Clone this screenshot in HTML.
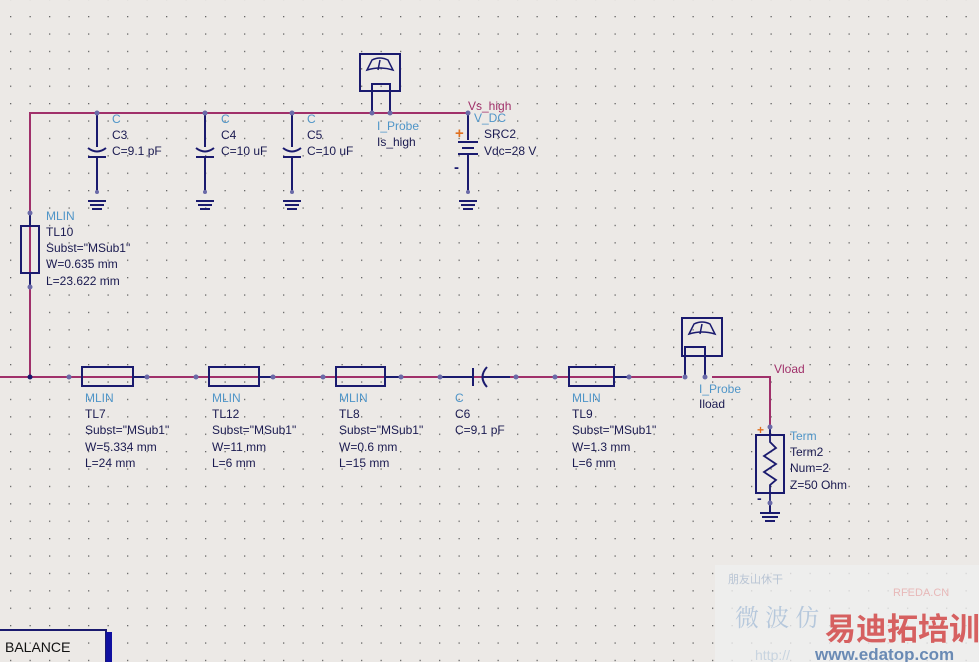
<!DOCTYPE html>
<html><head><meta charset="utf-8"><style>
html,body{margin:0;padding:0;background:#ece9e6;}
svg{display:block;}
text{font-family:"Liberation Sans",sans-serif;font-size:12px;fill:#1a1a50;}
.t{fill:#4f95c8;}
.m{fill:#a0306a;}
</style></head><body>
<svg width="979" height="662" viewBox="0 0 979 662" xmlns="http://www.w3.org/2000/svg">
<defs>
<pattern id="g" x="10" y="16" width="19.5" height="17.4" patternUnits="userSpaceOnUse">
<rect x="0" y="0" width="1.3" height="1.3" fill="#666"/>
</pattern>
</defs>
<rect width="979" height="662" fill="#ece9e6"/>
<rect width="979" height="662" fill="url(#g)"/>

<rect x="715" y="565" width="264" height="97" fill="#efefef" opacity="0.8"/>
<text x="728" y="583" style="font-size:11px;fill:#b8c4d4">朋友山休干</text>
<text x="893" y="596" style="font-size:11px;fill:#e8b8b8">RFEDA.CN</text>
<text x="735" y="626" style="font-size:24px;fill:#b6c8dc;font-family:'Noto Serif CJK SC',serif">微 波 仿</text>
<text x="825" y="640" style="font-size:31px;font-weight:bold;fill:#d66060;font-family:'Noto Sans CJK SC',sans-serif">易迪拓培训</text>
<text x="815" y="660" style="font-size:17px;font-weight:bold;fill:#6a8ab4">www.edatop.com</text>
<text x="755" y="660" style="font-size:14px;fill:#c8d4e0">http://</text>

<g stroke="#a0306a" stroke-width="2" fill="none">
<polyline points="30,377 30,113 468,113"/>
<line x1="0" y1="377" x2="682" y2="377"/>
<polyline points="712,377 770,377 770,427"/>
</g>

<g stroke="#1a1a6e" stroke-width="2" fill="none">
<line x1="30" y1="213" x2="30" y2="226"/>
<rect x="21" y="226" width="18" height="47"/>
<line x1="30" y1="273" x2="30" y2="287"/>
<g id="cap">
<line x1="97" y1="115" x2="97" y2="147"/>
<path d="M88,148 Q97,155 106,148"/>
<line x1="88" y1="157" x2="106" y2="157"/>
<line x1="97" y1="157" x2="97" y2="193"/>
<line x1="88" y1="201" x2="106" y2="201"/><line x1="90" y1="205" x2="104" y2="205"/><line x1="92" y1="209" x2="102" y2="209"/>
</g>
<use href="#cap" x="108"/>
<use href="#cap" x="195"/>
<rect x="360" y="54" width="40" height="37"/>
<path d="M367,70 L372,60 Q380,56 388,60 L393,70 Q380,66 367,70Z" stroke-width="1.5"/>
<line x1="380" y1="60" x2="378" y2="70" stroke-width="1.5"/>
<polyline points="372,113 372,84 390,84 390,113"/>
<line x1="468" y1="115" x2="468" y2="140"/>
<line x1="458" y1="142" x2="478" y2="142"/>
<line x1="462" y1="148" x2="474" y2="148"/>
<line x1="458" y1="154" x2="478" y2="154"/>
<line x1="468" y1="154" x2="468" y2="193"/>
<line x1="459" y1="201" x2="477" y2="201"/><line x1="461" y1="205" x2="475" y2="205"/><line x1="463" y1="209" x2="473" y2="209"/>
<rect x="82" y="367" width="51" height="19"/><line x1="133" y1="377" x2="147" y2="377"/>
<rect x="209" y="367" width="50" height="19"/><line x1="259" y1="377" x2="273" y2="377"/>
<rect x="336" y="367" width="49" height="19"/><line x1="385" y1="377" x2="401" y2="377"/>
<line x1="440" y1="377" x2="473" y2="377"/>
<line x1="473" y1="368" x2="473" y2="386"/>
<path d="M487,367 Q478,377 487,387"/>
<line x1="482" y1="377" x2="510" y2="377"/>
<rect x="569" y="367" width="45" height="19"/><line x1="614" y1="377" x2="629" y2="377"/>
<rect x="682" y="318" width="40" height="38"/>
<path d="M689,334 L694,324 Q702,320 710,324 L715,334 Q702,330 689,334Z" stroke-width="1.5"/>
<line x1="702" y1="324" x2="700" y2="334" stroke-width="1.5"/>
<polyline points="685,377 685,347 705,347 705,377"/>
<line x1="770" y1="427" x2="770" y2="435"/>
<rect x="756" y="435" width="28" height="58"/>
<polyline points="770,435 770,442 776,448 764,456 776,464 764,472 776,480 770,485 770,503" stroke-width="1.8"/>
<line x1="760" y1="513" x2="780" y2="513"/><line x1="762" y1="517" x2="778" y2="517"/><line x1="765" y1="521" x2="775" y2="521"/>
<line x1="770" y1="503" x2="770" y2="513"/>
<polyline points="0,630 106,630 106,662" stroke-width="2"/>
</g>
<rect x="106" y="632" width="6" height="30" fill="#1010a0"/>
<g fill="#6a6aa8">
<circle cx="97" cy="113" r="2.5"/><circle cx="205" cy="113" r="2.5"/><circle cx="292" cy="113" r="2.5"/>
<circle cx="372" cy="113" r="2.5"/><circle cx="390" cy="113" r="2.5"/><circle cx="468" cy="113" r="2.5"/>
<circle cx="30" cy="213" r="2.5"/><circle cx="30" cy="287" r="2.5"/>
<circle cx="69" cy="377" r="2.5"/><circle cx="147" cy="377" r="2.5"/>
<circle cx="196" cy="377" r="2.5"/><circle cx="273" cy="377" r="2.5"/>
<circle cx="323" cy="377" r="2.5"/><circle cx="401" cy="377" r="2.5"/>
<circle cx="440" cy="377" r="2.5"/><circle cx="516" cy="377" r="2.5"/>
<circle cx="555" cy="377" r="2.5"/><circle cx="629" cy="377" r="2.5"/>
<circle cx="685" cy="377" r="2.5"/><circle cx="705" cy="377" r="2.5"/>
<circle cx="770" cy="427" r="2.5"/><circle cx="770" cy="503" r="2.5"/>
<circle cx="97" cy="192" r="2"/><circle cx="205" cy="192" r="2"/><circle cx="292" cy="192" r="2"/><circle cx="468" cy="192" r="2"/>
</g>
<circle cx="30" cy="377" r="2.5" fill="#1a1a6e"/>
<text x="455" y="138" style="font-size:15px;font-weight:bold;fill:#e07020">+</text>
<text x="454" y="172" style="font-size:15px;font-weight:bold;fill:#1a1a6e">-</text>
<text x="757" y="434" style="font-size:12px;font-weight:bold;fill:#e07020">+</text>
<text x="757" y="503" style="font-size:14px;font-weight:bold;fill:#1a1a6e">-</text>

<text class="t" x="112" y="123">C</text><text x="112" y="139">C3</text><text x="112" y="155">C=9.1 pF</text>
<text class="t" x="221" y="123">C</text><text x="221" y="139">C4</text><text x="221" y="155">C=10 uF</text>
<text class="t" x="307" y="123">C</text><text x="307" y="139">C5</text><text x="307" y="155">C=10 uF</text>
<text class="t" x="377" y="130">I_Probe</text><text x="377" y="146">Is_high</text>
<text class="m" x="468" y="110">Vs_high</text>
<text class="t" x="474" y="122">V_DC</text><text x="484" y="138">SRC2</text><text x="484" y="155">Vdc=28 V</text>
<text class="t" x="46" y="220">MLIN</text><text x="46" y="236">TL10</text><text x="46" y="252">Subst="MSub1"</text><text x="46" y="268">W=0.635 mm</text><text x="46" y="285">L=23.622 mm</text>
<text class="t" x="85" y="402">MLIN</text><text x="85" y="418">TL7</text><text x="85" y="434">Subst="MSub1"</text><text x="85" y="451">W=5.334 mm</text><text x="85" y="467">L=24 mm</text>
<text class="t" x="212" y="402">MLIN</text><text x="212" y="418">TL12</text><text x="212" y="434">Subst="MSub1"</text><text x="212" y="451">W=11 mm</text><text x="212" y="467">L=6 mm</text>
<text class="t" x="339" y="402">MLIN</text><text x="339" y="418">TL8</text><text x="339" y="434">Subst="MSub1"</text><text x="339" y="451">W=0.6 mm</text><text x="339" y="467">L=15 mm</text>
<text class="t" x="455" y="402">C</text><text x="455" y="418">C6</text><text x="455" y="434">C=9.1 pF</text>
<text class="t" x="572" y="402">MLIN</text><text x="572" y="418">TL9</text><text x="572" y="434">Subst="MSub1"</text><text x="572" y="451">W=1.3 mm</text><text x="572" y="467">L=6 mm</text>
<text class="t" x="699" y="393">I_Probe</text><text x="699" y="408">Iload</text>
<text class="m" x="774" y="373">Vload</text>
<text class="t" x="790" y="440">Term</text><text x="790" y="456">Term2</text><text x="790" y="472">Num=2</text><text x="790" y="489">Z=50 Ohm</text>
<text x="5" y="652" style="font-size:14px;fill:#111">BALANCE</text>
</svg>
</body></html>
